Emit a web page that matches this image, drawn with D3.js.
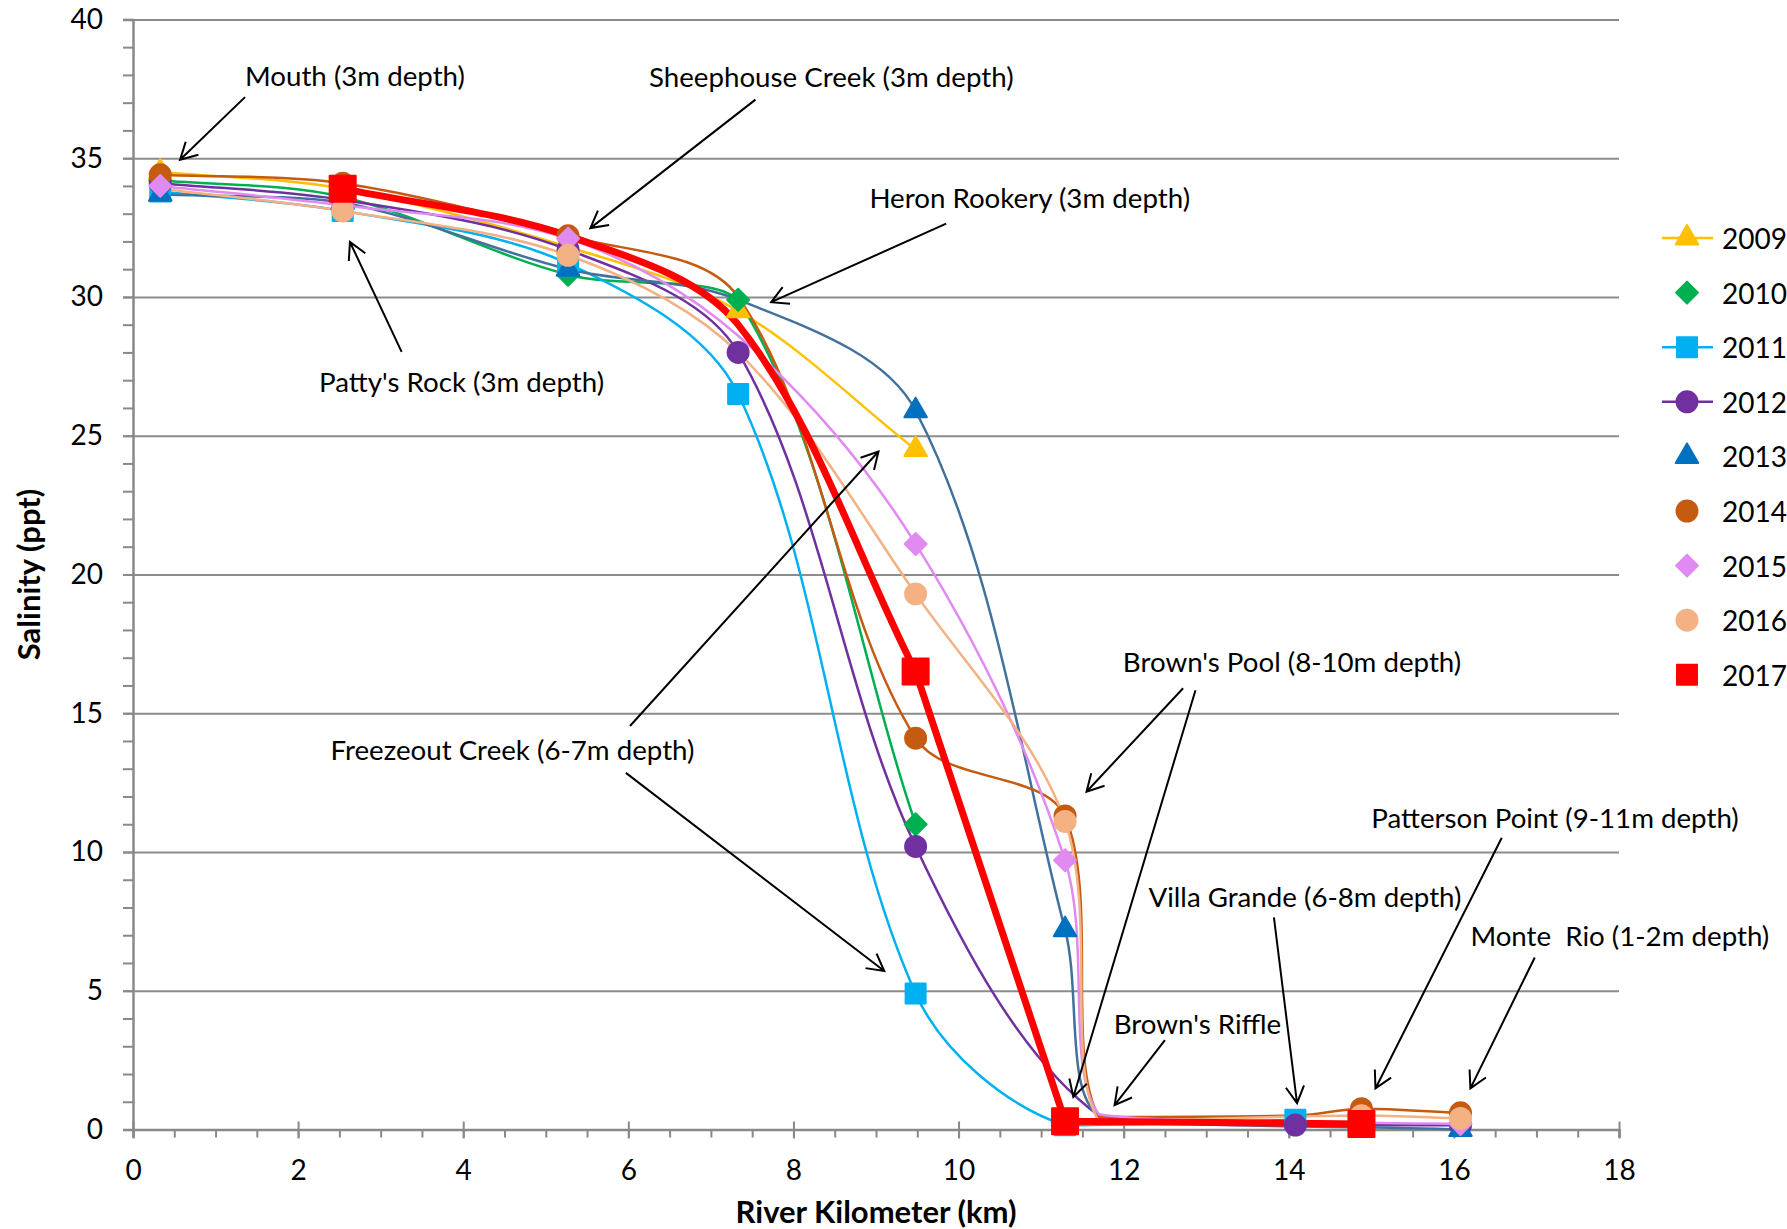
<!DOCTYPE html>
<html>
<head>
<meta charset="utf-8">
<script src="https://cdn.jsdelivr.net/npm/d3@7"></script>
<style>
  body { margin: 0; background: #fff; }
  svg text { font-family: Lato, "Open Sans", sans-serif; fill: #000; }
</style>
</head>
<body>
<svg id="chart" width="1787" height="1229"></svg>
<script>
// stations along the river (km from the mouth)
const stations = ["Mouth", "Patty's Rock", "Sheephouse Creek", "Heron Rookery", "Freezeout Creek",
  "Brown's Pool", "Brown's Riffle", "Villa Grande", "Patterson Point", "Monte Rio"];
const stationKm = [0.33, 2.54, 5.27, 7.33, 9.48, 11.29, 11.7, 14.08, 14.88, 16.08];

const years = ["2009", "2010", "2011", "2012", "2013", "2014", "2015", "2016", "2017"];

// salinity (ppt) per station, null = not sampled
const sal2009 = [34.5, 33.9, 31.8, 29.5, 24.5, null, null, null, null, null];
const sal2010 = [34.2, 33.6, 30.8, 29.9, 11.0, null, null, null, null, null];
const sal2011 = [33.8, 33.1, 31.2, 26.5, 4.9, 0.15, null, 0.35, null, null];
const sal2012 = [34.1, 33.5, 31.7, 28.0, 10.2, null, 0.5, 0.16, null, 0.15];
const sal2013 = [33.7, 33.4, 31.0, 29.9, 25.9, 7.2, 0.5, null, null, 0.0];
const sal2014 = [34.4, 34.1, 32.2, 30.0, 14.1, 11.3, 0.45, 0.5, 0.75, 0.6];
const sal2015 = [34.0, 33.3, 32.1, 28.6, 21.1, 9.7, 0.55, null, 0.25, 0.2];
const sal2016 = [33.9, 33.1, 31.5, 28.0, 19.3, 11.1, 0.3, null, 0.5, 0.4];
const sal2017 = [null, 33.9, 32.2, 29.0, 16.5, 0.3, null, null, 0.2, null];
const salinity = [sal2009, sal2010, sal2011, sal2012, sal2013, sal2014, sal2015, sal2016, sal2017];

// station indexes whose marker is not shown in the figure
const noMarker = [[], [], [], [6], [3, 6], [3, 6, 7], [3, 6], [0, 3, 6], [2, 3]];

// styles
const markColor = ["#FFC000", "#00B050", "#00B0F0", "#7030A0", "#0070C0", "#C55A11", "#E08AF2", "#F4B183", "#FF0000"];
const lineColor = ["#FFC000", "#00B050", "#00B0F0", "#7030A0", "#41719C", "#C55A11", "#E08AF2", "#F4B183", "#FF0000"];
const shapes = ["triangle", "diamond", "square", "circle", "triangle", "circle", "diamond", "circle", "bigsquare"];
const legendHasLine = [true, false, true, true, false, false, false, false, false];

const yTickLabels = [0, 5, 10, 15, 20, 25, 30, 35, 40];
const xTickLabels = [0, 2, 4, 6, 8, 10, 12, 14, 16, 18];

// annotations: label, left/middle position of text, arrows [x1,y1,x2,y2] in data units
const noteText = ["Mouth (3m depth)", "Sheephouse Creek (3m depth)", "Heron Rookery (3m depth)",
  "Patty's Rock (3m depth)", "Freezeout Creek (6-7m depth)", "Brown's Pool (8-10m depth)",
  "Patterson Point (9-11m depth)", "Villa Grande (6-8m depth)", "Monte  Rio (1-2m depth)", "Brown's Riffle"];
const noteAt = [[1.357, 37.98], [6.25, 37.94], [8.92, 33.58], [2.254, 26.97], [2.392, 13.71],
  [11.99, 16.88], [15.0, 11.25], [12.30, 8.38], [16.20, 6.98], [11.88, 3.82]];
const noteArrows = [
  [[1.357, 37.2, 0.57, 34.94]],
  [[7.54, 37.11, 5.54, 32.48]],
  [[9.85, 32.64, 7.73, 29.81]],
  [[3.254, 28.02, 2.628, 31.98]],
  [[6.02, 14.54, 9.03, 24.43], [5.97, 12.85, 9.10, 5.71]],
  [[12.72, 15.9, 11.55, 12.17], [12.87, 15.83, 11.39, 1.17]],
  [[16.58, 10.51, 15.05, 1.48]],
  [[13.82, 7.64, 14.10, 0.95]],
  [[16.98, 6.2, 16.20, 1.48]],
  [[12.5, 3.22, 11.89, 0.88]]
];

const svg = d3.select("#chart");
const margin = { left: 133, right: 168, top: 19.4, bottom: 99.5 };
const W = 1787, H = 1229;

const x = d3.scaleLinear().domain([0, 18]).range([margin.left, W - margin.right]);
const y = d3.scaleLinear().domain([0, 40]).range([H - margin.bottom, margin.top]);

// gridlines
svg.append("g")
  .attr("transform", `translate(${margin.left},0)`)
  .call(d3.axisLeft(y).tickValues(yTickLabels.slice(1)).tickSize(-(x(18) - x(0))).tickFormat(""))
  .call(g => g.select(".domain").remove())
  .call(g => g.selectAll("line").attr("stroke", "#8c8c8c").attr("stroke-width", 2).attr("x1", -10));

// y axis with minor ticks every 1 ppt
svg.append("g")
  .attr("transform", `translate(${margin.left},0)`)
  .call(d3.axisLeft(y).tickValues(d3.range(0, 41, 1)).tickSize(10).tickPadding(20)
    .tickFormat(d => d % 5 === 0 ? d : ""))
  .call(g => g.select(".domain").attr("stroke", "#898989").attr("stroke-width", 2.5))
  .call(g => g.selectAll("line").attr("stroke", "#898989").attr("stroke-width", 2))
  .call(g => g.selectAll("text").attr("font-size", 28).attr("font-family", "Lato"));

// x axis: minor ticks every 0.5 km, major every 2 km crossing the axis
svg.append("g").attr("transform", `translate(0,${y(0)})`)
  .call(d3.axisBottom(x).tickValues(d3.range(0, 18.01, 0.5)).tickSize(8).tickFormat(""))
  .call(g => g.select(".domain").attr("stroke", "#898989").attr("stroke-width", 2.5))
  .call(g => g.selectAll("line").attr("stroke", "#898989").attr("stroke-width", 2));
svg.append("g").attr("transform", `translate(0,${y(0)})`)
  .call(d3.axisBottom(x).tickValues(xTickLabels).tickSize(9).tickPadding(22))
  .call(g => g.select(".domain").remove())
  .call(g => g.selectAll("line").attr("y1", -8).attr("stroke", "#898989").attr("stroke-width", 2))
  .call(g => g.selectAll("text").attr("font-size", 28).attr("font-family", "Lato"));

// axis titles
svg.append("text")
  .attr("transform", `translate(28,${(y(0) + y(40)) / 2}) rotate(-90)`)
  .attr("text-anchor", "middle").attr("dominant-baseline", "central")
  .attr("font-size", 31).attr("font-weight", "bold")
  .text("Salinity (ppt)");
svg.append("text")
  .attr("x", (x(0) + x(18)) / 2).attr("y", 1211)
  .attr("text-anchor", "middle").attr("dominant-baseline", "central")
  .attr("font-size", 31).attr("font-weight", "bold")
  .text("River Kilometer (km)");

// series
const series = years.map((yr, i) => ({
  year: yr, i,
  points: salinity[i].map((v, s) => ({ km: stationKm[s], v, s })).filter(p => p.v !== null)
}));

// smoothed line: bezier with tangents weighted by neighbouring segment lengths,
// control points kept inside each segment's box so the curve does not overshoot
function smooth(points) {
  const pts = points.map(p => [x(p.km), y(p.v)]);
  const t = 1 / 3, n = pts.length;
  const ctrl = pts.map((p, i) => {
    const prev = pts[Math.max(0, i - 1)], next = pts[Math.min(n - 1, i + 1)];
    const d01 = Math.hypot(p[0] - prev[0], p[1] - prev[1]);
    const d12 = Math.hypot(next[0] - p[0], next[1] - p[1]);
    const sum = (d01 + d12) || 1;
    const dx = next[0] - prev[0], dy = next[1] - prev[1];
    return {
      inX: p[0] - t * d01 / sum * dx, inY: p[1] - t * d01 / sum * dy,
      outX: p[0] + t * d12 / sum * dx, outY: p[1] + t * d12 / sum * dy
    };
  });
  const clamp = (v, a, b) => Math.max(Math.min(a, b), Math.min(Math.max(a, b), v));
  const path = d3.path();
  path.moveTo(pts[0][0], pts[0][1]);
  for (let i = 1; i < n; i++) {
    const a = pts[i - 1], b = pts[i];
    path.bezierCurveTo(
      clamp(ctrl[i - 1].outX, a[0], b[0]), clamp(ctrl[i - 1].outY, a[1], b[1]),
      clamp(ctrl[i].inX, a[0], b[0]), clamp(ctrl[i].inY, a[1], b[1]),
      b[0], b[1]);
  }
  return path.toString();
}
const straight = d3.line().x(p => x(p.km)).y(p => y(p.v));

const lineG = svg.append("g");
series.forEach(sr => {
  if (sr.i === 8) {
    // 2017: smoothed down to Freezeout Creek, straight below
    const cut = sr.points.findIndex(p => p.s === 4);
    lineG.append("path").attr("d", smooth(sr.points.slice(0, cut + 1)))
      .attr("fill", "none").attr("stroke", lineColor[sr.i]).attr("stroke-width", 7);
    lineG.append("path").attr("d", straight(sr.points.slice(cut)))
      .attr("fill", "none").attr("stroke", lineColor[sr.i]).attr("stroke-width", 7)
      .attr("stroke-linejoin", "round");
  } else {
    lineG.append("path").attr("d", smooth(sr.points))
      .attr("fill", "none").attr("stroke", lineColor[sr.i]).attr("stroke-width", 2.5);
  }
});

function symbolPath(shape) {
  if (shape === "triangle") return d3.symbol(d3.symbolTriangle, 220)();
  if (shape === "diamond") return "M0,-11L11,0L0,11L-11,0Z";
  if (shape === "square") return "M-10,-10H10V10H-10Z";
  if (shape === "bigsquare") return "M-13,-13H13V13H-13Z";
  return d3.symbol(d3.symbolCircle, 346)();
}

const markG = svg.append("g");
series.forEach(sr => {
  markG.selectAll(null)
    .data(sr.points.filter(p => !noMarker[sr.i].includes(p.s)))
    .join("path")
    .attr("transform", p => `translate(${x(p.km)},${y(p.v)})`)
    .attr("d", symbolPath(shapes[sr.i]))
    .attr("fill", markColor[sr.i])
    .attr("stroke", markColor[sr.i]).attr("stroke-width", 2).attr("stroke-linejoin", "round");
});

// annotations
const noteG = svg.append("g");
noteText.forEach((t, k) => {
  noteG.append("text")
    .attr("x", x(noteAt[k][0])).attr("y", y(noteAt[k][1]))
    .attr("dominant-baseline", "central").attr("font-size", 27.7)
    .style("white-space", "pre")
    .text(t);
  noteArrows[k].forEach(a => {
    const x1 = x(a[0]), y1 = y(a[1]), x2 = x(a[2]), y2 = y(a[3]);
    const ang = Math.atan2(y1 - y2, x1 - x2);
    const L = 19, spread = 0.5;
    noteG.append("path")
      .attr("d", `M${x1},${y1}L${x2},${y2}` +
        `M${x2 + L * Math.cos(ang + spread)},${y2 + L * Math.sin(ang + spread)}L${x2},${y2}` +
        `L${x2 + L * Math.cos(ang - spread)},${y2 + L * Math.sin(ang - spread)}`)
      .attr("fill", "none").attr("stroke", "#000").attr("stroke-width", 2);
  });
});

// legend
const legend = svg.append("g");
years.forEach((yr, i) => {
  const cy = 238 + i * 54.6;
  if (legendHasLine[i]) {
    legend.append("line").attr("x1", 1662).attr("x2", 1713).attr("y1", cy).attr("y2", cy)
      .attr("stroke", lineColor[i]).attr("stroke-width", 2.5);
  }
  legend.append("path")
    .attr("transform", `translate(1687,${cy})`)
    .attr("d", symbolPath(shapes[i] === "bigsquare" ? "square" : shapes[i]))
    .attr("fill", markColor[i]).attr("stroke", markColor[i]).attr("stroke-width", 2)
    .attr("stroke-linejoin", "round");
  legend.append("text").attr("x", 1722).attr("y", cy)
    .attr("dominant-baseline", "central").attr("font-size", 28)
    .text(yr);
});
</script>
</body>
</html>
